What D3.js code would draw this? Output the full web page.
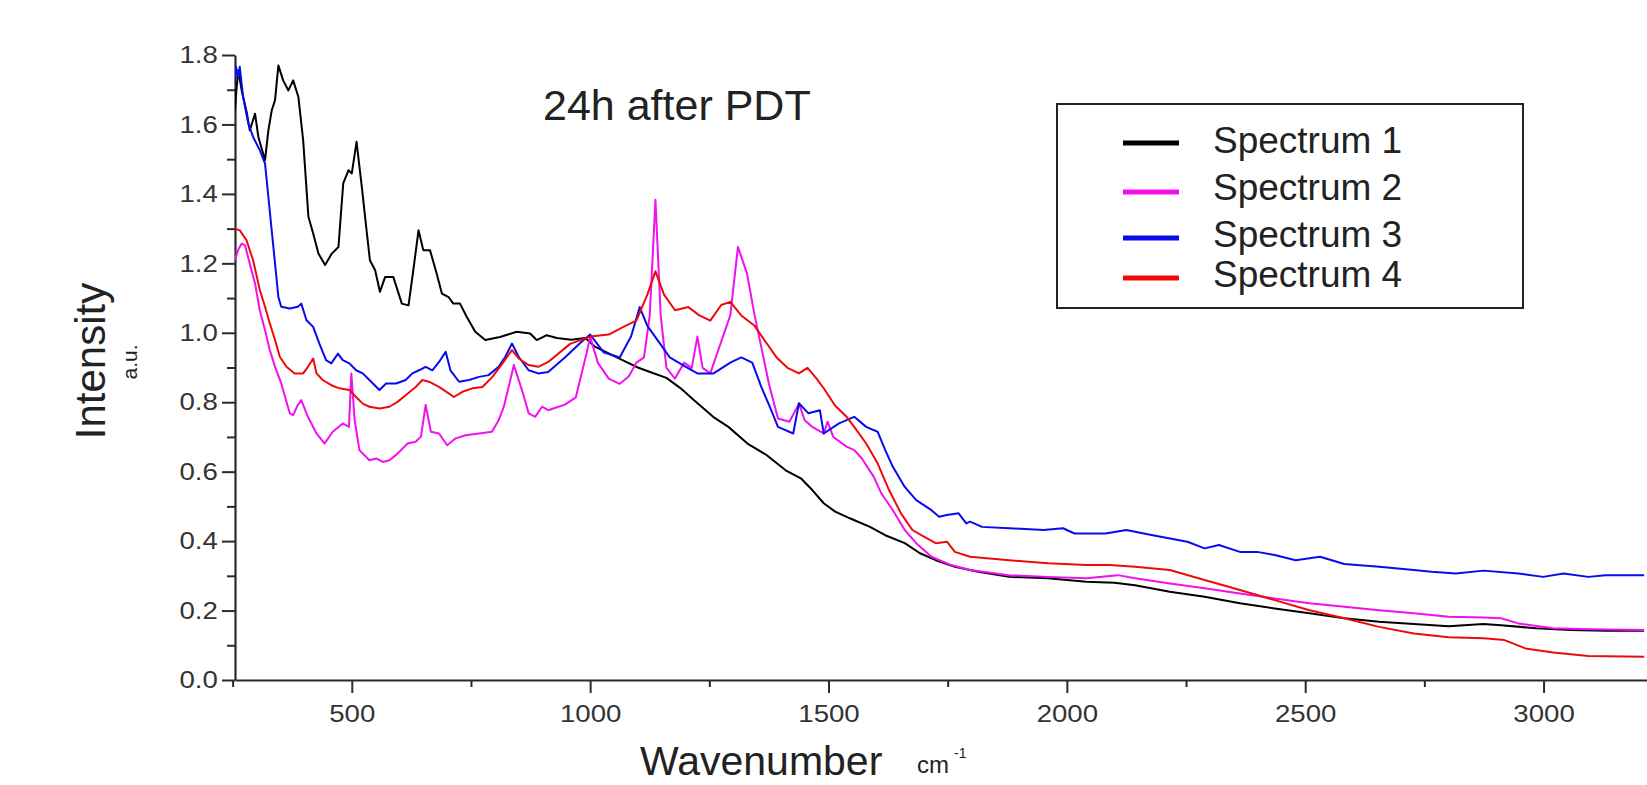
<!DOCTYPE html>
<html><head><meta charset="utf-8">
<script src="https://cdn.jsdelivr.net/npm/d3@7"></script>
<style>
body{margin:0;background:#fff}
svg{display:block}
text{font-family:"Liberation Sans",Arial,Helvetica,sans-serif}
</style>
</head><body>
<svg id="chart" width="1647" height="785"></svg>
<script>
// ---------------- DATA ----------------
const seriesNames = ["Spectrum 1", "Spectrum 2", "Spectrum 3", "Spectrum 4"];
const xMajorTicks = [500, 1000, 1500, 2000, 2500, 3000];
const xMinorTicks = [250, 750, 1250, 1750, 2250, 2750];
const yMajorTicks = [0, 0.2, 0.4, 0.6, 0.8, 1.0, 1.2, 1.4, 1.6, 1.8];
const yMinorTicks = [0.1, 0.3, 0.5, 0.7, 0.9, 1.1, 1.3, 1.5, 1.7];
const xExtent = [255, 3217];
const yExtent = [0, 1.8];

const spectrum1 = [[255,1.64],[258,1.70],[262,1.756],[269,1.698],[280,1.632],[286,1.583],[297,1.631],[304,1.564],[318,1.497],[325,1.583],[332,1.64],[339,1.67],[346,1.77],[356,1.727],[367,1.698],[377,1.727],[388,1.679],[398,1.554],[409,1.334],[419,1.286],[430,1.228],[444,1.195],[458,1.228],[472,1.247],[482,1.43],[493,1.468],[500,1.459],[510,1.55],[521,1.42],[531,1.295],[538,1.209],[549,1.18],[559,1.118],[570,1.161],[587,1.161],[605,1.084],[619,1.079],[629,1.18],[640,1.295],[650,1.238],[664,1.238],[678,1.171],[689,1.113],[703,1.103],[713,1.084],[727,1.084],[741,1.046],[759,1.003],[780,0.979],[811,0.988],[846,1.003],[874,0.998],[888,0.979],[909,0.993],[930,0.985],[960,0.98],[990,0.985],[1010,0.96],[1040,0.94],[1070,0.92],[1100,0.90],[1130,0.885],[1160,0.87],[1190,0.84],[1218,0.806],[1258,0.758],[1290,0.729],[1330,0.681],[1370,0.648],[1410,0.604],[1442,0.581],[1466,0.547],[1490,0.509],[1514,0.485],[1546,0.465],[1587,0.441],[1619,0.417],[1660,0.394],[1692,0.365],[1725,0.345],[1765,0.326],[1814,0.312],[1879,0.297],[1960,0.293],[2041,0.283],[2100,0.28],[2143,0.273],[2216,0.254],[2289,0.240],[2363,0.221],[2436,0.206],[2509,0.192],[2582,0.178],[2655,0.168],[2728,0.161],[2801,0.155],[2874,0.161],[2911,0.158],[2984,0.149],[3057,0.144],[3130,0.142],[3211,0.142]];

const spectrum2 = [[255,1.21],[262,1.24],[269,1.257],[276,1.252],[286,1.199],[297,1.142],[307,1.065],[318,1.007],[328,0.950],[339,0.902],[352,0.854],[366,0.787],[370,0.768],[377,0.763],[386,0.79],[394,0.806],[408,0.758],[426,0.710],[443,0.681],[460,0.715],[481,0.739],[494,0.729],[499,0.883],[506,0.748],[516,0.662],[537,0.633],[551,0.638],[565,0.628],[579,0.633],[596,0.652],[617,0.681],[634,0.686],[645,0.701],[655,0.792],[666,0.715],[683,0.710],[700,0.676],[718,0.696],[739,0.705],[767,0.710],[794,0.715],[808,0.748],[819,0.787],[840,0.907],[857,0.835],[871,0.768],[885,0.758],[899,0.787],[912,0.777],[947,0.793],[970,0.814],[993,0.944],[1000,0.989],[1016,0.914],[1039,0.868],[1062,0.853],[1081,0.874],[1097,0.914],[1113,0.929],[1125,1.05],[1137,1.383],[1148,1.05],[1160,0.899],[1178,0.868],[1197,0.914],[1213,0.899],[1225,0.989],[1236,0.899],[1252,0.883],[1271,0.959],[1294,1.05],[1310,1.247],[1329,1.171],[1345,1.05],[1359,0.959],[1375,0.853],[1394,0.753],[1418,0.744],[1438,0.796],[1450,0.748],[1466,0.729],[1490,0.71],[1498,0.744],[1510,0.70],[1538,0.672],[1554,0.662],[1570,0.638],[1595,0.585],[1611,0.537],[1635,0.489],[1660,0.432],[1684,0.394],[1716,0.355],[1757,0.331],[1797,0.317],[1879,0.302],[1960,0.297],[2041,0.293],[2107,0.302],[2143,0.293],[2216,0.278],[2289,0.264],[2363,0.249],[2436,0.235],[2509,0.221],[2582,0.211],[2655,0.201],[2728,0.192],[2801,0.182],[2874,0.180],[2911,0.178],[2947,0.163],[3020,0.149],[3094,0.146],[3211,0.144]];

const spectrum3 = [[255,1.72],[257,1.766],[262,1.737],[265,1.766],[272,1.679],[283,1.602],[293,1.564],[307,1.526],[318,1.487],[325,1.391],[332,1.295],[339,1.199],[346,1.103],[352,1.075],[370,1.070],[387,1.075],[394,1.084],[405,1.036],[419,1.017],[432,0.969],[446,0.921],[457,0.912],[471,0.940],[481,0.921],[495,0.912],[509,0.892],[523,0.883],[537,0.864],[558,0.835],[572,0.854],[593,0.854],[613,0.864],[627,0.883],[641,0.892],[655,0.902],[669,0.892],[683,0.916],[697,0.945],[707,0.892],[725,0.859],[746,0.864],[767,0.873],[787,0.878],[808,0.902],[822,0.931],[836,0.969],[850,0.931],[871,0.892],[891,0.883],[912,0.887],[947,0.929],[982,0.974],[1000,0.995],[1028,0.944],[1062,0.929],[1086,0.99],[1104,1.074],[1120,1.02],[1144,0.974],[1167,0.929],[1197,0.905],[1225,0.883],[1259,0.883],[1294,0.914],[1317,0.929],[1340,0.914],[1359,0.844],[1375,0.793],[1394,0.729],[1426,0.710],[1438,0.797],[1458,0.768],[1482,0.777],[1490,0.71],[1522,0.739],[1554,0.758],[1579,0.729],[1603,0.715],[1619,0.662],[1635,0.614],[1660,0.556],[1684,0.518],[1716,0.489],[1732,0.470],[1748,0.475],[1773,0.480],[1789,0.451],[1797,0.456],[1822,0.441],[1879,0.437],[1951,0.432],[1992,0.437],[2016,0.422],[2081,0.422],[2125,0.432],[2180,0.417],[2253,0.398],[2289,0.379],[2319,0.389],[2363,0.369],[2399,0.369],[2436,0.360],[2480,0.345],[2531,0.355],[2582,0.334],[2655,0.326],[2728,0.317],[2765,0.312],[2816,0.307],[2874,0.315],[2947,0.307],[2999,0.297],[3042,0.307],[3094,0.297],[3130,0.302],[3211,0.302]];

const spectrum4 = [[255,1.30],[265,1.295],[279,1.267],[293,1.209],[307,1.123],[318,1.075],[328,1.027],[339,0.979],[349,0.931],[363,0.902],[380,0.883],[398,0.883],[408,0.902],[419,0.926],[426,0.883],[439,0.864],[457,0.849],[474,0.840],[495,0.835],[509,0.815],[523,0.796],[537,0.787],[558,0.782],[579,0.787],[596,0.801],[613,0.820],[634,0.844],[648,0.864],[662,0.859],[683,0.844],[704,0.825],[714,0.815],[732,0.830],[753,0.840],[774,0.844],[795,0.873],[816,0.912],[836,0.950],[850,0.926],[871,0.907],[891,0.902],[912,0.916],[958,0.968],[1000,0.989],[1039,0.995],[1074,1.02],[1097,1.035],[1120,1.11],[1137,1.177],[1155,1.11],[1178,1.065],[1206,1.074],[1229,1.05],[1252,1.035],[1275,1.08],[1294,1.089],[1317,1.05],[1345,1.02],[1368,0.974],[1391,0.929],[1414,0.899],[1438,0.883],[1456,0.899],[1475,0.868],[1491,0.838],[1514,0.79],[1538,0.758],[1554,0.729],[1579,0.681],[1603,0.624],[1627,0.547],[1652,0.480],[1676,0.432],[1700,0.413],[1725,0.394],[1749,0.398],[1765,0.369],[1797,0.355],[1879,0.345],[1960,0.336],[2041,0.331],[2089,0.331],[2143,0.326],[2216,0.317],[2289,0.288],[2363,0.259],[2436,0.230],[2509,0.201],[2582,0.178],[2655,0.153],[2728,0.134],[2801,0.123],[2874,0.120],[2918,0.115],[2962,0.091],[3020,0.079],[3094,0.069],[3211,0.067]];

const allSpectra = [spectrum1, spectrum2, spectrum3, spectrum4];

// ---------------- STYLE / LAYOUT ----------------
const colors = ["#000000", "#f010f0", "#0a0aef", "#ee0a0a"];
const svg = d3.select("#chart");
const x = d3.scaleLinear().domain(xExtent).range([235, 1647]);
const y = d3.scaleLinear().domain(yExtent).range([680, 55]);
const axisColor = "#2a2a2a";
const labelColor = "#333";
const stretch = 1.15;

svg.append("defs").append("clipPath").attr("id", "plotclip")
  .append("rect").attr("x", 235).attr("y", 0).attr("width", 1647 - 235).attr("height", 682);

// minor ticks
svg.append("g").attr("transform", "translate(0,680)")
  .call(d3.axisBottom(x).tickValues(xMinorTicks).tickSize(7).tickFormat(""))
  .call(g => g.select(".domain").remove())
  .call(g => g.selectAll("line").attr("stroke", axisColor).attr("stroke-width", 2));
svg.append("g").attr("transform", "translate(235,0)")
  .call(d3.axisLeft(y).tickValues(yMinorTicks).tickSize(8).tickFormat(""))
  .call(g => g.select(".domain").remove())
  .call(g => g.selectAll("line").attr("stroke", axisColor).attr("stroke-width", 2));

// major axes
const gx = svg.append("g").attr("transform", "translate(0,680)")
  .call(d3.axisBottom(x).tickValues(xMajorTicks).tickSize(13).tickSizeOuter(0).tickPadding(12).tickFormat(d3.format("d")));
const gy = svg.append("g").attr("transform", "translate(235,0)")
  .call(d3.axisLeft(y).tickValues(yMajorTicks).tickSize(13).tickSizeOuter(0).tickPadding(2).tickFormat(d3.format(".1f")));
[gx, gy].forEach(g => {
  g.select(".domain").attr("stroke", axisColor).attr("stroke-width", 2.2);
  g.selectAll(".tick line").attr("stroke", axisColor).attr("stroke-width", 2);
  g.selectAll(".tick text").attr("font-size", 24).attr("fill", labelColor)
    .attr("font-family", "Liberation Sans, Arial, sans-serif")
    .attr("transform", `scale(${stretch},1)`);
});

// series lines
const line = d3.line().x(d => x(d[0])).y(d => y(d[1]));
svg.append("g").attr("clip-path", "url(#plotclip)")
  .selectAll("path").data(allSpectra).join("path")
  .attr("d", line).attr("fill", "none")
  .attr("stroke", (d, i) => colors[i]).attr("stroke-width", 2)
  .attr("stroke-linejoin", "round");

// title
svg.append("text").attr("x", 543).attr("y", 120).attr("font-size", 43)
  .attr("fill", "#222").text("24h after PDT");

// axis titles
svg.append("text").attr("transform", "translate(105,361) rotate(-90)")
  .attr("text-anchor", "middle").attr("font-size", 42).attr("fill", "#222").text("Intensity");
svg.append("text").attr("transform", "translate(137,362) rotate(-90)")
  .attr("text-anchor", "middle").attr("font-size", 21).attr("fill", "#222").text("a.u.");
svg.append("text").attr("x", 640).attr("y", 775).attr("font-size", 41)
  .attr("fill", "#222").text("Wavenumber");
svg.append("text").attr("x", 917).attr("y", 773).attr("font-size", 24)
  .attr("fill", "#222").text("cm");
svg.append("text").attr("x", 954).attr("y", 758).attr("font-size", 14)
  .attr("fill", "#222").text("-1");

// legend
const legend = svg.append("g");
legend.append("rect").attr("x", 1057).attr("y", 104).attr("width", 466).attr("height", 204)
  .attr("fill", "#fff").attr("stroke", "#222").attr("stroke-width", 2);
const legendLineY = [143, 192, 238, 278];
const legendTextY = [153, 200, 247, 287];
seriesNames.forEach((name, i) => {
  legend.append("line").attr("x1", 1123).attr("x2", 1179)
    .attr("y1", legendLineY[i]).attr("y2", legendLineY[i])
    .attr("stroke", colors[i]).attr("stroke-width", 5);
  legend.append("text").attr("x", 1213).attr("y", legendTextY[i])
    .attr("font-size", 37).attr("fill", "#222").text(name);
});
</script>
</body></html>
